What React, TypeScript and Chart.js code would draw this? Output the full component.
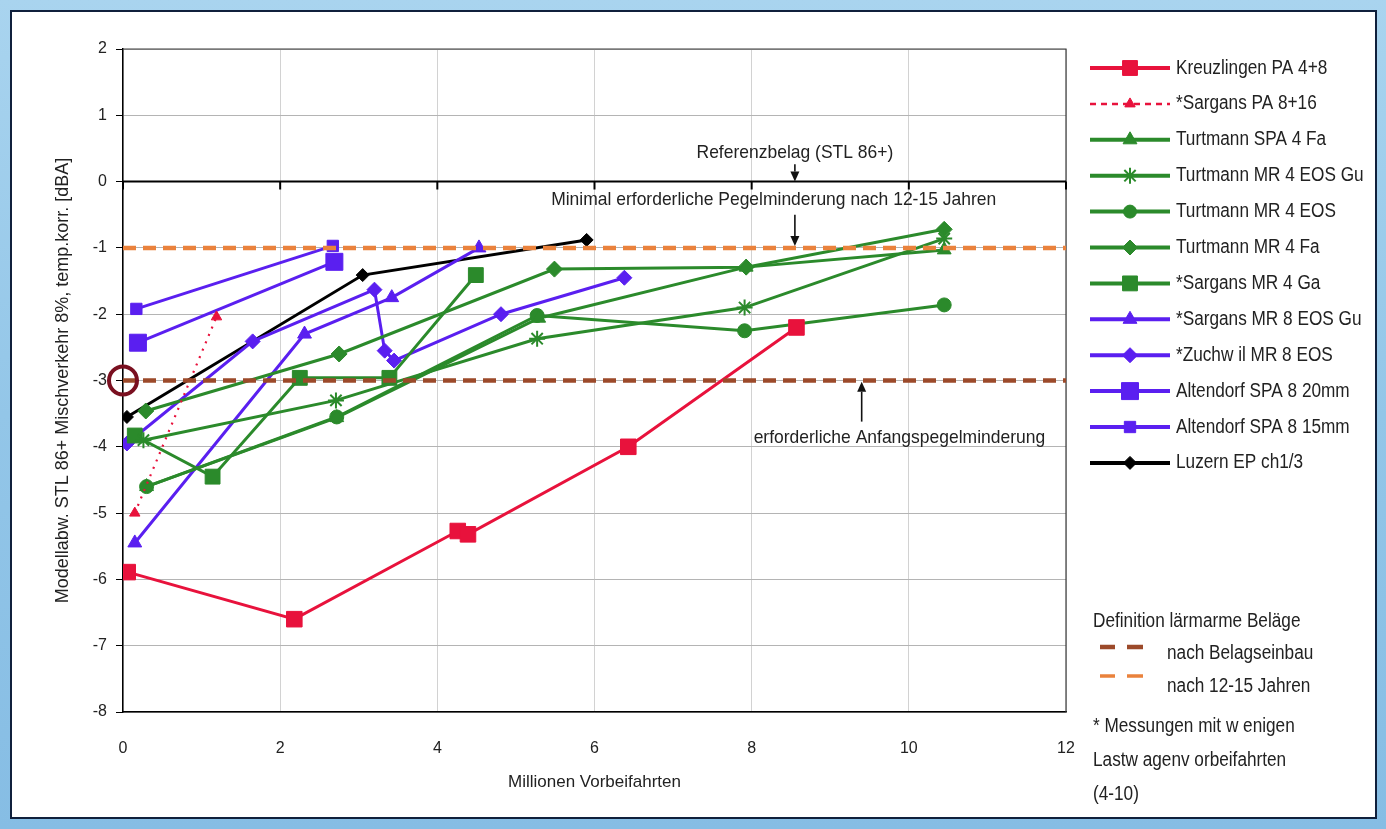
import React, { useEffect, useRef } from 'react';
import { Chart, registerables } from 'chart.js';
import { drawPoint } from 'chart.js/helpers';

Chart.register(...registerables);

const FONT = '"Liberation Sans", Arial, sans-serif';

// ---- axes ----
const X_MIN = 0;
const X_MAX = 12;
const X_STEP = 2;
const Y_MIN = -8;
const Y_MAX = 2;
const Y_STEP = 1;
const X_TITLE = 'Millionen Vorbeifahrten';
const Y_TITLE = 'Modellabw. STL 86+ Mischverkehr 8%, temp.korr. [dBA]';

// ---- series (x = Mio. Vorbeifahrten, y = dBA) ----
const kreuzlingenX = [0.06, 2.18, 4.26, 4.39, 6.43, 8.57];
const kreuzlingenY = [-5.89, -6.6, -5.27, -5.32, -4.0, -2.2];

const sargansPaX = [0.15, 1.19];
const sargansPaY = [-5.0, -2.04];

const turtmannSpaFaX = [0.3, 2.72, 5.29, 7.93, 10.45];
const turtmannSpaFaY = [-4.6, -3.56, -2.06, -1.29, -1.03];

const turtmannEosGuX = [0.26, 2.71, 5.27, 7.91, 10.45];
const turtmannEosGuY = [-3.9, -3.3, -2.37, -1.9, -0.86];

const turtmannEosX = [0.3, 2.72, 5.27, 7.91, 10.45];
const turtmannEosY = [-4.6, -3.55, -2.02, -2.25, -1.86];

const turtmannFaX = [0.29, 2.75, 5.49, 7.93, 10.45];
const turtmannFaY = [-3.46, -2.6, -1.32, -1.29, -0.72];

const sargansMr4X = [0.15, 1.14, 2.25, 3.39, 4.49];
const sargansMr4Y = [-3.83, -4.45, -2.96, -2.96, -1.41];

const sargansMr8X = [0.15, 2.31, 3.42, 4.53];
const sargansMr8Y = [-5.45, -2.3, -1.75, -1.0];

const zuchwilX = [0.05, 1.65, 3.2, 3.33, 3.45, 4.81, 6.38];
const zuchwilY = [-3.95, -2.41, -1.63, -2.55, -2.7, -2.0, -1.45];

const altendorf20X = [0.19, 2.69];
const altendorf20Y = [-2.43, -1.21];

const altendorf15X = [0.17, 2.67];
const altendorf15Y = [-1.92, -0.97];

const luzernX = [0.05, 3.05, 5.9];
const luzernY = [-3.55, -1.41, -0.88];

// ---- reference levels ----
const REF_X = [0, 12];
const REF_INITIAL = -3; // nach Belagseinbau
const REF_AFTER = -1; // nach 12-15 Jahren
const MARK_X = 0;
const MARK_Y = -3;

// ---- annotations (data coordinates) ----
const NOTE_TEXTS = [
  'Referenzbelag (STL 86+)',
  'Minimal erforderliche Pegelminderung nach 12-15 Jahren',
  'erforderliche Anfangspegelminderung',
];
const NOTE_X = [8.55, 8.28, 9.88];
const NOTE_Y = [0.44, -0.28, -3.86];
const ARROW_X = [8.55, 8.55, 9.4];
const ARROW_FROM = [0.26, -0.5, -3.62];
const ARROW_TO = [0.0, -0.97, -3.02];

// ---- side texts ----
const DEF_TITLE = 'Definition lärmarme Beläge';
const DEF_LABELS = ['nach Belagseinbau', 'nach 12-15 Jahren'];
const NOTE_LINES = ['* Messungen mit w enigen', 'Lastw agenv orbeifahrten', '(4-10)'];

const RED = '#e8123c';
const GREEN = '#2b8a2b';
const BLUE = '#5a1ff0';
const BLACK = '#000000';
const ORANGE = '#ea823c';
const BROWN = '#9c4a2a';
const TEXT = '#222222';

type Series = {
  label: string;
  xs: number[];
  ys: number[];
  color: string;
  style: string;
  radius: number;
  legendRadius: number;
  dash?: number[];
  width?: number;
};

const SERIES: Series[] = [
  { label: 'Kreuzlingen PA 4+8', xs: kreuzlingenX, ys: kreuzlingenY, color: RED, style: 'rect', radius: 11, legendRadius: 10.5 },
  { label: '*Sargans PA 8+16', xs: sargansPaX, ys: sargansPaY, color: RED, style: 'triangle', radius: 6, legendRadius: 6, dash: [2, 6], width: 2.2 },
  { label: 'Turtmann SPA 4 Fa', xs: turtmannSpaFaX, ys: turtmannSpaFaY, color: GREEN, style: 'triangle', radius: 8, legendRadius: 8 },
  { label: 'Turtmann MR 4 EOS Gu', xs: turtmannEosGuX, ys: turtmannEosGuY, color: GREEN, style: 'star', radius: 8, legendRadius: 8 },
  { label: 'Turtmann MR 4 EOS', xs: turtmannEosX, ys: turtmannEosY, color: GREEN, style: 'circle', radius: 7, legendRadius: 6.5 },
  { label: 'Turtmann MR 4 Fa', xs: turtmannFaX, ys: turtmannFaY, color: GREEN, style: 'rectRot', radius: 8, legendRadius: 7.5 },
  { label: '*Sargans MR 4 Ga', xs: sargansMr4X, ys: sargansMr4Y, color: GREEN, style: 'rect', radius: 10.5, legendRadius: 10.5 },
  { label: '*Sargans MR 8 EOS Gu', xs: sargansMr8X, ys: sargansMr8Y, color: BLUE, style: 'triangle', radius: 8, legendRadius: 8 },
  { label: '*Zuchw il MR 8 EOS', xs: zuchwilX, ys: zuchwilY, color: BLUE, style: 'rectRot', radius: 7.5, legendRadius: 7.5 },
  { label: 'Altendorf SPA 8 20mm', xs: altendorf20X, ys: altendorf20Y, color: BLUE, style: 'rect', radius: 12, legendRadius: 12 },
  { label: 'Altendorf SPA 8 15mm', xs: altendorf15X, ys: altendorf15Y, color: BLUE, style: 'rect', radius: 8, legendRadius: 8 },
  { label: 'Luzern EP ch1/3', xs: luzernX, ys: luzernY, color: BLACK, style: 'rectRot', radius: 6.5, legendRadius: 6.5 },
];

// legend / side block layout
const LEG_LINE_X0 = 1090;
const LEG_LINE_X1 = 1170;
const LEG_TEXT_X = 1176;
const LEG_Y0 = 68;
const LEG_DY = 35.9;

function makeDatasets() {
  const ds: any[] = SERIES.map((s) => ({
    label: s.label,
    data: s.xs.map((x, i) => ({ x, y: s.ys[i] })),
    borderColor: s.color,
    backgroundColor: s.color,
    borderWidth: s.width ?? 3,
    borderDash: s.dash ?? [],
    pointStyle: s.style,
    pointRadius: s.radius,
    pointBackgroundColor: s.color,
    pointBorderColor: s.color,
    pointBorderWidth: s.style === 'star' ? 2 : 1,
    tension: 0,
    fill: false,
    legendRadius: s.legendRadius,
    isSeries: true,
  }));
  ds.push({
    label: 'nach Belagseinbau',
    data: REF_X.map((x) => ({ x, y: REF_INITIAL })),
    borderColor: BROWN,
    borderWidth: 4.5,
    borderDash: [13, 7],
    pointRadius: 0,
    order: -1,
    fill: false,
  });
  ds.push({
    label: 'nach 12-15 Jahren',
    data: REF_X.map((x) => ({ x, y: REF_AFTER })),
    borderColor: ORANGE,
    borderWidth: 4.5,
    borderDash: [13, 7],
    pointRadius: 0,
    order: -1,
    fill: false,
  });
  return ds;
}

// horizontally condensed text (the source uses a narrow face)
function narrowText(
  ctx: CanvasRenderingContext2D,
  text: string,
  x: number,
  y: number,
  size: number,
  squeeze: number,
  align: CanvasTextAlign = 'left'
) {
  ctx.save();
  ctx.font = `${size}px ${FONT}`;
  ctx.textAlign = align;
  ctx.textBaseline = 'middle';
  ctx.translate(x, y);
  ctx.scale(squeeze, 1);
  ctx.fillText(text, 0, 0);
  ctx.restore();
}

function arrow(ctx: CanvasRenderingContext2D, x: number, y1: number, y2: number) {
  const dir = y2 > y1 ? 1 : -1;
  const head = 10;
  ctx.beginPath();
  ctx.moveTo(x, y1);
  ctx.lineTo(x, y2 - dir * head);
  ctx.stroke();
  ctx.beginPath();
  ctx.moveTo(x, y2);
  ctx.lineTo(x - 4.5, y2 - dir * head);
  ctx.lineTo(x + 4.5, y2 - dir * head);
  ctx.closePath();
  ctx.fill();
}

const overlayPlugin = {
  id: 'overlay',
  beforeDatasetsDraw(chart: any) {
    const { ctx, chartArea: a, scales } = chart;
    const xs = scales.x;
    const ys = scales.y;
    ctx.save();
    ctx.strokeStyle = '#3c3c3c';
    ctx.lineWidth = 1.2;
    ctx.beginPath();
    ctx.moveTo(a.left, a.top);
    ctx.lineTo(a.right, a.top);
    ctx.lineTo(a.right, a.bottom);
    ctx.stroke();
    const y0 = ys.getPixelForValue(0);
    ctx.strokeStyle = '#000';
    ctx.lineWidth = 2;
    ctx.beginPath();
    ctx.moveTo(a.left, y0);
    ctx.lineTo(a.right, y0);
    for (const t of xs.ticks) {
      const px = xs.getPixelForValue(t.value);
      ctx.moveTo(px, y0);
      ctx.lineTo(px, y0 + 8);
    }
    ctx.stroke();
    ctx.restore();
  },
  afterDatasetsDraw(chart: any) {
    const { ctx, scales } = chart;
    const xs = scales.x;
    const ys = scales.y;
    ctx.save();
    ctx.strokeStyle = '#7a1020';
    ctx.lineWidth = 4;
    ctx.beginPath();
    ctx.arc(xs.getPixelForValue(MARK_X), ys.getPixelForValue(MARK_Y), 14, 0, Math.PI * 2);
    ctx.stroke();
    ctx.fillStyle = TEXT;
    NOTE_TEXTS.forEach((t, i) => {
      narrowText(ctx, t, xs.getPixelForValue(NOTE_X[i]), ys.getPixelForValue(NOTE_Y[i]), 19, 0.92, 'center');
    });
    ctx.strokeStyle = '#111';
    ctx.fillStyle = '#111';
    ctx.lineWidth = 1.6;
    ARROW_X.forEach((x, i) => {
      arrow(ctx, xs.getPixelForValue(x), ys.getPixelForValue(ARROW_FROM[i]), ys.getPixelForValue(ARROW_TO[i]));
    });
    ctx.restore();
  },
  afterDraw(chart: any) {
    const { ctx } = chart;
    ctx.save();
    const series = chart.data.datasets.filter((d: any) => d.isSeries);
    series.forEach((d: any, i: number) => {
      const y = LEG_Y0 + i * LEG_DY;
      const dashed = d.borderDash && d.borderDash.length;
      ctx.strokeStyle = d.borderColor;
      ctx.fillStyle = d.borderColor;
      ctx.lineWidth = dashed ? 2.5 : 4;
      ctx.setLineDash(dashed ? [6, 5] : []);
      ctx.beginPath();
      ctx.moveTo(LEG_LINE_X0, y);
      ctx.lineTo(LEG_LINE_X1, y);
      ctx.stroke();
      ctx.setLineDash([]);
      ctx.lineWidth = d.pointStyle === 'star' ? 2 : 1;
      drawPoint(
        ctx,
        { pointStyle: d.pointStyle, radius: d.legendRadius, rotation: 0, borderWidth: ctx.lineWidth } as any,
        (LEG_LINE_X0 + LEG_LINE_X1) / 2,
        y
      );
      ctx.fillStyle = TEXT;
      narrowText(ctx, d.label, LEG_TEXT_X, y, 20, 0.86);
    });
    ctx.fillStyle = TEXT;
    narrowText(ctx, DEF_TITLE, 1093, 621, 20, 0.86);
    const refColors = [BROWN, ORANGE];
    const refY = [647, 676];
    DEF_LABELS.forEach((t, i) => {
      ctx.strokeStyle = refColors[i];
      ctx.lineWidth = i === 0 ? 4.5 : 3.5;
      ctx.beginPath();
      ctx.moveTo(1100, refY[i]);
      ctx.lineTo(1115, refY[i]);
      ctx.moveTo(1127, refY[i]);
      ctx.lineTo(1143, refY[i]);
      ctx.stroke();
      narrowText(ctx, t, 1167, refY[i] + (i === 0 ? 6 : 10), 20, 0.86);
    });
    NOTE_LINES.forEach((t, i) => {
      narrowText(ctx, t, 1093, 726 + i * 34, 20, 0.86);
    });
    ctx.restore();
  },
};

export default function App() {
  const ref = useRef<HTMLCanvasElement>(null);
  useEffect(() => {
    const chart = new Chart(ref.current as HTMLCanvasElement, {
      type: 'line',
      data: { datasets: makeDatasets() },
      options: {
        responsive: false,
        animation: false,
        events: [],
        layout: { padding: { left: 52, right: 320, top: 49, bottom: 36 } },
        plugins: { legend: { display: false }, tooltip: { enabled: false } },
        scales: {
          x: {
            type: 'linear',
            min: X_MIN,
            max: X_MAX,
            ticks: { stepSize: X_STEP, padding: 27, color: TEXT, font: { family: FONT, size: 16 }, maxRotation: 0 },
            grid: { color: '#d2d2d2', drawTicks: false, lineWidth: 1 },
            border: { color: '#000', width: 1.5 },
            title: { display: true, text: X_TITLE, color: TEXT, font: { family: FONT, size: 17 }, padding: 0 },
            afterFit: (s: any) => {
              s.height = 81;
            },
          },
          y: {
            type: 'linear',
            min: Y_MIN,
            max: Y_MAX,
            ticks: { stepSize: Y_STEP, padding: 9, color: TEXT, font: { family: FONT, size: 16 } },
            grid: { color: '#b4b4b4', tickColor: '#000', tickLength: 7, lineWidth: 1 },
            border: { color: '#000', width: 1.5 },
            title: { display: true, text: Y_TITLE, color: TEXT, font: { family: FONT, size: 18 }, padding: 0 },
            afterFit: (s: any) => {
              s.width = 71;
            },
          },
        },
      } as any,
      plugins: [overlayPlugin],
    });
    return () => chart.destroy();
  }, []);

  return (
    <div
      style={{
        position: 'fixed',
        left: 0,
        top: 0,
        width: 1386,
        height: 829,
        overflow: 'hidden',
        background: 'linear-gradient(180deg, #a9d4ef 0%, #93c6e8 50%, #86bde4 100%)',
      }}
    >
      <div
        style={{
          position: 'absolute',
          left: 10,
          top: 10,
          width: 1363,
          height: 805,
          background: '#ffffff',
          border: '2px solid #10203c',
        }}
      />
      <canvas
        ref={ref}
        width={1386}
        height={829}
        style={{ position: 'absolute', left: 0, top: 0, width: 1386, height: 829 }}
      />
    </div>
  );
}
